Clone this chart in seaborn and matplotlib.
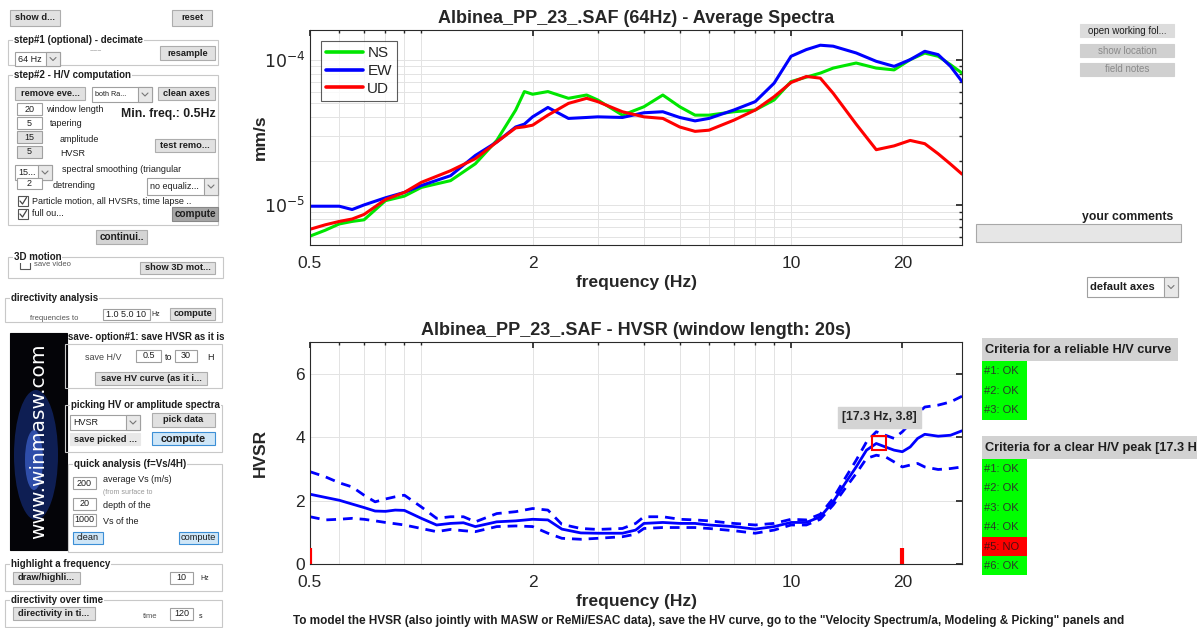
import numpy as np
import pandas as pd
import matplotlib
matplotlib.use("Agg")
import matplotlib.pyplot as plt
import seaborn as sns
from matplotlib.patches import Rectangle, Ellipse
from matplotlib.ticker import FixedLocator, LogLocator, NullFormatter

# ---- average spectra (mm/s, x 1e-5) ----
freq_spec = [0.5, 0.55, 0.6, 0.65, 0.7, 0.8, 0.9, 1.0, 1.2, 1.4, 1.6, 1.8, 1.9, 2.0, 2.2,
             2.5, 2.8, 3.0, 3.5, 4.0, 4.5, 5.0, 5.5, 6.0, 7.0, 8.0, 9.0, 10, 11, 12, 13,
             15, 17, 19, 21, 23, 25, 27, 29]
ns = [0.61, 0.67, 0.74, 0.77, 0.79, 1.07, 1.15, 1.32, 1.47, 1.92, 2.78, 4.50, 6.03, 5.78, 6.03,
      5.42, 5.71, 5.28, 4.15, 4.74, 5.71, 4.74, 4.15, 4.15, 4.38, 4.50, 5.28, 7.07, 7.58, 8.08, 8.75,
      9.48, 8.75, 8.50, 10.0, 11.1, 10.55, 9.23, 8.08]
ew = [0.98, 0.98, 0.98, 0.93, 1.0, 1.12, 1.22, 1.36, 1.59, 2.19, 2.71, 3.44, 3.60, 4.04, 4.69,
      3.94, 4.00, 4.04, 4.00, 4.31, 4.38, 4.00, 3.79, 3.94, 4.50, 5.14, 6.89, 10.55, 11.73, 12.57, 12.38,
      11.12, 9.74, 8.99, 10.0, 11.42, 10.83, 8.99, 7.07]
ud = [0.68, 0.73, 0.77, 0.80, 0.86, 1.09, 1.22, 1.43, 1.72, 2.08, 2.71, 3.39, 3.45, 3.54, 4.15,
      5.00, 5.42, 5.14, 4.38, 4.04, 3.94, 3.44, 3.21, 3.27, 3.83, 4.50, 5.56, 6.96, 7.66, 7.46, 5.87,
      3.60, 2.40, 2.55, 2.78, 2.64, 2.25, 1.91, 1.63]

# ---- HVSR ----
freq_hv = [0.5, 0.55, 0.6, 0.65, 0.7, 0.75, 0.8, 0.85, 0.9, 1.0, 1.1, 1.2, 1.3, 1.4, 1.6, 1.8,
           2.0, 2.2, 2.4, 2.7, 3.0, 3.5, 3.8, 4.0, 4.5, 5.0, 5.5, 6.0, 7.0, 8.0, 9.0, 10,
           11, 12, 13, 14, 15, 16, 17, 18, 19, 20, 21, 22, 23, 25, 27, 29]
hv_mean = [2.20, 2.10, 2.01, 1.89, 1.78, 1.67, 1.66, 1.70, 1.69, 1.44, 1.23, 1.28, 1.30, 1.18, 1.33, 1.36,
           1.41, 1.39, 1.10, 0.98, 0.97, 0.97, 1.07, 1.28, 1.31, 1.28, 1.28, 1.23, 1.18, 1.10, 1.18, 1.31,
           1.31, 1.49, 1.96, 2.54, 3.06, 3.59, 3.80, 3.69, 3.59, 3.54, 3.69, 3.96, 4.09, 4.03, 4.06, 4.20]
hv_upper = [2.91, 2.75, 2.56, 2.43, 2.17, 1.96, 2.05, 2.12, 2.17, 1.80, 1.44, 1.49, 1.49, 1.33, 1.59, 1.65,
            1.75, 1.70, 1.25, 1.12, 1.09, 1.12, 1.28, 1.49, 1.49, 1.41, 1.39, 1.36, 1.28, 1.23, 1.28, 1.41,
            1.39, 1.57, 2.07, 2.70, 3.27, 3.85, 4.17, 4.06, 3.96, 4.17, 4.43, 4.74, 4.95, 5.01, 5.11, 5.29]
hv_lower = [1.49, 1.39, 1.41, 1.44, 1.41, 1.36, 1.31, 1.27, 1.23, 1.12, 1.02, 1.09, 1.05, 1.02, 1.18, 1.20,
            1.18, 0.97, 0.81, 0.78, 0.81, 0.86, 0.94, 1.12, 1.15, 1.15, 1.15, 1.12, 1.05, 0.97, 1.07, 1.23,
            1.23, 1.41, 1.86, 2.38, 2.85, 3.33, 3.43, 3.38, 3.22, 3.06, 3.12, 3.17, 3.06, 2.98, 3.01, 3.06]
peak_f, peak_hv = 17.3, 3.8
range_marks = [0.5, 20]

xticks = [0.5, 2, 10, 20]
criteria_curve = ["#1: OK", "#2: OK", "#3: OK"]
criteria_peak = ["#1: OK", "#2: OK", "#3: OK", "#4: OK", "#5: NO", "#6: OK"]

sns.set_theme(style="white")
plt.rcParams['font.family'] = ['Liberation Sans', 'DejaVu Sans']

W, H = 1197, 628
fig = plt.figure(figsize=(W / 100, H / 100), dpi=100)
fig.patch.set_facecolor('white')

# ---------------- GUI layer (pixel coords, y down) ----------------
gui = fig.add_axes([0, 0, 1, 1], zorder=0)
gui.set_xlim(0, W)
gui.set_ylim(H, 0)
gui.axis('off')

TXT = '#1e1e1e'


def box(x0, y0, x1, y1, fc, ec='#b0b0b0', lw=0.8):
    gui.add_patch(Rectangle((x0, y0), x1 - x0, y1 - y0, fc=fc, ec=ec, lw=lw))


def txt(x, y, s, size=6.5, weight='normal', color=TXT, ha='left', **kw):
    gui.text(x, y, s, fontsize=size, fontweight=weight, color=color, ha=ha, va='center', **kw)


def button(x0, y0, x1, y1, label, fc='#e1e1e1', color=TXT, ec='#adadad', size=6.7, weight='bold'):
    box(x0, y0, x1, y1, fc, ec=ec)
    txt((x0 + x1) / 2, (y0 + y1) / 2, label, size=size, weight=weight, ha='center', color=color)


def edit(x0, y0, x1, y1, label, fc='white'):
    box(x0, y0, x1, y1, fc, ec='#a0a0a0')
    txt((x0 + x1) / 2, (y0 + y1) / 2, label, ha='center')


def dropdown(x0, y0, x1, y1, label, size=6.5, weight='normal'):
    box(x0, y0, x1, y1, 'white', ec='#a0a0a0')
    box(x1 - 14, y0, x1, y1, '#e8e8e8', ec='#a0a0a0')
    ym = (y0 + y1) / 2
    gui.plot([x1 - 10, x1 - 7, x1 - 4], [ym - 1.5, ym + 1.5, ym - 1.5], color='#777777', lw=0.8)
    txt(x0 + 3, ym, label, size=size, weight=weight)


def frame(x0, y0, x1, y1, title):
    box(x0, y0, x1, y1, 'none', ec='#c8c8c8')
    gui.text(x0 + 6, y0, title, fontsize=7, fontweight='bold', color=TXT, va='center',
             bbox=dict(fc='white', ec='none', pad=0.5))


def checkbox(x, y, label, color=TXT):
    box(x, y - 5, x + 10, y + 5, 'white', ec='#555555')
    gui.plot([x + 2, x + 4.5, x + 8.5], [y, y + 3, y - 3.5], color='#444444', lw=0.9)
    txt(x + 14, y, label, color=color)


# top buttons
button(10, 10, 60, 26, "show d...")
button(172, 10, 212, 26, "reset")

# step 1
frame(8, 40, 218, 65, "step#1 (optional) - decimate")
dropdown(15, 52, 60, 66, "64 Hz")
txt(90, 52, "~~~", size=5, color='#888888')
button(160, 46, 215, 60, "resample")

# step 2
frame(8, 75, 218, 225, "step#2 - H/V computation")
button(15, 87, 85, 100, "remove eve...")
dropdown(92, 87, 152, 102, "both Ra...", size=5.2)
button(158, 87, 215, 100, "clean axes")
edit(17, 103, 42, 115, "20")
txt(46, 109, "window length")
txt(121, 114, "Min. freq.: 0.5Hz", size=8.8, weight='bold')
edit(17, 117, 42, 129, "5")
txt(50, 124, "tapering")
edit(17, 131, 42, 143, "15", fc='#e1e1e1')
txt(60, 139, "amplitude")
edit(17, 146, 42, 158, "5", fc='#e1e1e1')
txt(60, 154, "HVSR")
button(155, 139, 215, 152, "test remo...")
dropdown(15, 165, 52, 180, "15...")
txt(62, 170, "spectral smoothing (triangular")
edit(17, 178, 42, 189, "2")
txt(53, 186, "detrending")
dropdown(147, 178, 218, 195, "no equaliz...")
checkbox(18, 201, "Particle motion, all HVSRs, time lapse ..")
checkbox(18, 214, "full ou...")
button(172, 207, 218, 221, "compute", fc='#a6a6a6', ec='#888888', size=7.2)
button(96, 230, 147, 244, "continui..", fc='#d4d4d4', size=7.2)

# 3D motion
frame(8, 257, 223, 278, "3D motion")
box(20, 261, 30, 269, 'white', ec='#555555')
txt(34, 264, "save video", size=5.5, color='#555555')
button(140, 262, 215, 274, "show 3D mot...")

# directivity
frame(5, 298, 222, 322, "directivity analysis")
txt(30, 318, "frequencies to", size=5.5, color='#555555')
edit(103, 309, 150, 320, "1.0 5.0 10")
txt(151, 315, "Hz", size=5)
button(170, 308, 215, 320, "compute")

# logo
box(10, 333, 67, 550, '#040408', ec='#040408')
gui.add_patch(Ellipse((36, 455), 44, 130, fc='#1b3fb0', ec='none', alpha=0.45))
gui.add_patch(Ellipse((34, 460), 18, 60, fc='#4f7dff', ec='none', alpha=0.5))
gui.text(39, 441, "www.winmasw.com", rotation=90, fontsize=14.5, color='white',
         ha='center', va='center', family=['DejaVu Sans'])

# save option
txt(68, 337, "save- option#1: save HVSR as it is", size=6.9, weight='bold')
box(65, 344, 222, 388, 'none', ec='#c8c8c8')
txt(85, 357, "save H/V", color='#444444')
edit(136, 350, 161, 362, "0.5")
txt(165, 357, "to")
edit(175, 350, 197, 362, "30")
txt(207, 357, "H")
button(95, 372, 207, 385, "save HV curve (as it i...")

# picking
frame(65, 405, 222, 452, "picking HV or amplitude spectra")
dropdown(70, 415, 140, 430, "HVSR")
button(70, 433, 140, 445, "save picked ...", fc='#e8e8e8', ec='#e8e8e8')
button(152, 413, 215, 427, "pick data")
button(152, 432, 215, 445, "compute", fc='#cfe6f7', ec='#3c8fd6', size=7.8)

# quick analysis
frame(68, 464, 222, 552, "quick analysis (f=Vs/4H)")
edit(73, 477, 96, 489, "200")
txt(103, 480, "average Vs (m/s)")
txt(103, 492, "(from surface to", size=5, color='#999999')
edit(73, 498, 96, 510, "20")
txt(103, 505, "depth of the")
edit(73, 514, 96, 526, "1000")
txt(103, 521, "Vs of the")
button(73, 532, 103, 544, "clean", fc='#cfe6f7', ec='#3c8fd6', weight='normal')
button(179, 532, 218, 544, "compute", fc='#cfe6f7', ec='#3c8fd6', weight='normal')

# highlight frequency
frame(5, 564, 222, 591, "highlight a frequency")
button(13, 572, 80, 584, "draw/highli...")
edit(170, 572, 193, 584, "10")
txt(200, 579, "Hz", size=5)

# directivity over time
frame(5, 600, 222, 627, "directivity over time")
button(13, 607, 95, 620, "directivity in ti...")
txt(143, 617, "time", size=5.5, color='#555555')
edit(170, 608, 193, 620, "120")
txt(199, 616, "s", size=5)

# right side widgets
button(1080, 24, 1174, 37, "open working fol...", fc='#dcdcdc', ec='#dcdcdc', size=7, weight='normal')
button(1080, 44, 1174, 57, "show location", fc='#d0d0d0', ec='#d0d0d0', color='#8a8a8a', size=7,
       weight='normal')
button(1080, 63, 1174, 76, "field notes", fc='#d0d0d0', ec='#d0d0d0', color='#8a8a8a', size=7,
       weight='normal')
txt(1173, 217, "your comments", size=8.8, weight='bold', ha='right')
box(976, 224, 1181, 242, '#e6e6e6', ec='#a8a8a8')
dropdown(1087, 277, 1178, 297, "default axes", size=8, weight='bold')

box(982, 338, 1178, 361, '#d2d2d2', ec='none')
txt(985, 350, "Criteria for a reliable H/V curve", size=9.2, weight='bold')
for i, lab in enumerate(criteria_curve):
    box(982, 361 + i * 19.5, 1027, 361 + (i + 1) * 19.5, '#00ff00', ec='none')
    txt(984, 371 + i * 19.5, lab, size=8, color='#2a3a2a')

box(982, 436, W, 459, '#d2d2d2', ec='none')
txt(985, 448, "Criteria for a clear H/V peak [17.3 Hz]", size=9.2, weight='bold')
for i, lab in enumerate(criteria_peak):
    fc = '#ff0000' if 'NO' in lab else '#00ff00'
    col = '#4a1010' if 'NO' in lab else '#2a3a2a'
    box(982, 459 + i * 19.4, 1027, 459 + (i + 1) * 19.4, fc, ec='none')
    txt(984, 469 + i * 19.4, lab, size=8, color=col)

gui.text(293, 621, 'To model the HVSR (also jointly with MASW or ReMi/ESAC data), save the HV curve, '
         'go to the "Velocity Spectrum/a, Modeling & Picking" panels and',
         fontsize=8.5, fontweight='bold', color=TXT, ha='left', va='center')

# ---------------- plot axes ----------------
AXC = '#262626'


def style_axes(ax):
    ax.set_xscale('log')
    ax.set_xlim(0.5, 29)
    ax.xaxis.set_major_locator(FixedLocator(xticks))
    ax.set_xticklabels([f"{t:g}" for t in xticks])
    ax.xaxis.set_minor_locator(LogLocator(base=10, subs=np.arange(1, 10)))
    ax.xaxis.set_minor_formatter(NullFormatter())
    ax.tick_params(which='both', direction='in', top=True, right=True, colors=AXC,
                   labelsize=12.5, length=4)
    ax.tick_params(axis='x', which='major', pad=8)
    ax.tick_params(which='minor', length=2.5)
    ax.grid(True, which='both', color='#e3e3e3', lw=0.7)
    for sp in ax.spines.values():
        sp.set_color('#2a2a2a')
        sp.set_linewidth(0.8)
    ax.set_xlabel("frequency (Hz)", fontsize=12.5, fontweight='bold', color=AXC, labelpad=3)
    ax.yaxis.set_label_coords(-0.064, 0.5)
    ax.set_facecolor('white')


ax1 = fig.add_axes([310 / W, 1 - 245 / H, 652 / W, 215 / H], zorder=2)
spec = pd.DataFrame({
    'frequency': freq_spec * 3,
    'amp': np.array(ns + ew + ud) * 1e-5,
    'component': ['NS'] * len(ns) + ['EW'] * len(ew) + ['UD'] * len(ud),
})
sns.lineplot(data=spec, x='frequency', y='amp', hue='component',
             palette={'NS': '#00e600', 'EW': '#0000ff', 'UD': '#ff0000'},
             lw=2.2, ax=ax1, legend=True)
ax1.set_yscale('log')
ax1.set_ylim(5.3e-6, 1.6e-4)
style_axes(ax1)
ax1.yaxis.set_major_locator(FixedLocator([1e-5, 1e-4]))
ax1.set_yticklabels([r'$10^{-5}$', r'$10^{-4}$'])
ax1.yaxis.set_minor_locator(LogLocator(base=10, subs=np.arange(2, 10)))
ax1.yaxis.set_minor_formatter(NullFormatter())
ax1.set_ylabel("mm/s", fontsize=12.5, fontweight='bold', color=AXC)
ax1.set_title("Albinea_PP_23_.SAF (64Hz) - Average Spectra", fontsize=13,
              fontweight='bold', color=AXC, pad=5)
leg = ax1.legend(loc='upper left', fontsize=11, frameon=True, fancybox=False,
                 edgecolor='#333333', handlelength=2.4, handletextpad=0.3,
                 borderaxespad=0.7, borderpad=0.35, labelspacing=0.25, title=None)
leg.get_frame().set_linewidth(0.8)
for ln in leg.get_lines():
    ln.set_linewidth(2.6)

ax2 = fig.add_axes([310 / W, 1 - 564 / H, 652 / W, 222 / H], zorder=2)
sns.lineplot(x=freq_hv, y=hv_mean, color='#0000ff', lw=2, ax=ax2)
sns.lineplot(x=freq_hv, y=hv_upper, color='#0000ff', lw=2, ls=(0, (3.5, 2.5)), ax=ax2)
sns.lineplot(x=freq_hv, y=hv_lower, color='#0000ff', lw=2, ls=(0, (3.5, 2.5)), ax=ax2)
ax2.vlines(range_marks, 0, 0.5, color='red', lw=3, zorder=5)
ax2.plot([peak_f], [peak_hv], marker='s', ms=10, mfc='none', mec='red', mew=1.5, zorder=6)
ax2.text(peak_f, 4.62, f"[{peak_f} Hz, {peak_hv}]", ha='center', va='center', fontsize=8.8,
         fontweight='bold', color=AXC, bbox=dict(fc='#d4d4d4', ec='#d4d4d4', pad=3))
ax2.set_ylim(0, 7)
style_axes(ax2)
ax2.set_yticks([0, 2, 4, 6])
ax2.set_ylabel("HVSR", fontsize=12.5, fontweight='bold', color=AXC)
ax2.set_title("Albinea_PP_23_.SAF - HVSR (window length: 20s)", fontsize=13,
              fontweight='bold', color=AXC, pad=5)

fig.savefig("out.png", dpi=100, facecolor='white')
